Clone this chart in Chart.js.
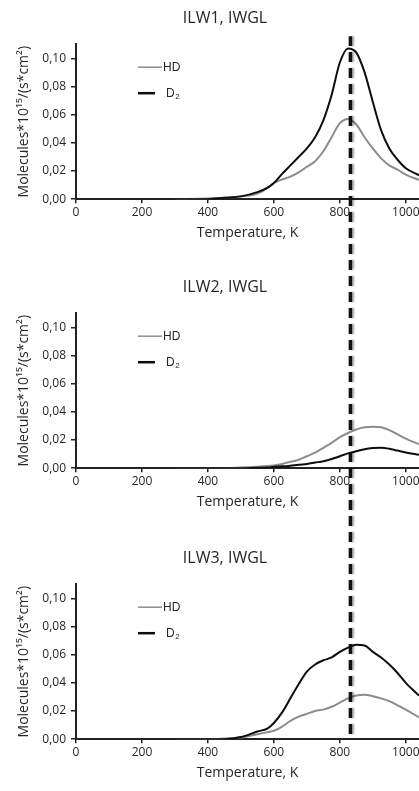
<!DOCTYPE html>
<html lang="en">
<head>
  <meta charset="UTF-8" />
  <title>TDS spectra ILW1-3</title>
  <script src="https://cdn.jsdelivr.net/npm/chart.js"></script>
  <style>
    html, body { margin: 0; padding: 0; background: #fff; }
    .page { position: relative; width: 419px; height: 791px; overflow: hidden; }
    .panel { position: absolute; left: 0; }
  </style>
</head>
<body>
  <div class="page">
    <div class="panel" style="top:0"><canvas id="c1" width="455" height="269"></canvas></div>
    <div class="panel" style="top:269px"><canvas id="c2" width="455" height="271"></canvas></div>
    <div class="panel" style="top:540px"><canvas id="c3" width="455" height="251"></canvas></div>
  </div>

  <script>
    // temperature grid (K)
    const TEMPS = [300, 400, 450, 500, 550, 580, 600, 625, 650, 675, 700, 725, 750, 775, 800, 825, 850, 875, 900, 925, 950, 975, 1000, 1040];

    // desorption flux, 10^15 molecules/(s*cm^2)
    const ILW1_HD = [0, 0.0005, 0.001, 0.002, 0.004, 0.008, 0.0115, 0.014, 0.016, 0.019, 0.023, 0.027, 0.034, 0.044, 0.054, 0.057, 0.053, 0.044, 0.036, 0.029, 0.024, 0.021, 0.0175, 0.0137];
    const ILW1_D2 = [0, 0, 0.001, 0.002, 0.005, 0.008, 0.0115, 0.018, 0.024, 0.030, 0.036, 0.044, 0.056, 0.074, 0.097, 0.107, 0.104, 0.090, 0.069, 0.049, 0.036, 0.028, 0.022, 0.017];
    const ILW2_HD = [0, 0, 0, 0.0005, 0.001, 0.0015, 0.002, 0.003, 0.0045, 0.006, 0.0085, 0.011, 0.0145, 0.018, 0.022, 0.025, 0.0275, 0.029, 0.0295, 0.029, 0.027, 0.024, 0.021, 0.017];
    const ILW2_D2 = [0, 0, 0, 0, 0.0003, 0.0005, 0.001, 0.0013, 0.0018, 0.0025, 0.003, 0.004, 0.005, 0.0065, 0.0085, 0.0105, 0.012, 0.0135, 0.0143, 0.0145, 0.0138, 0.0125, 0.0112, 0.0095];
    const ILW3_HD = [0, 0, 0.0005, 0.0012, 0.0035, 0.005, 0.006, 0.009, 0.013, 0.016, 0.018, 0.020, 0.021, 0.023, 0.026, 0.029, 0.031, 0.0315, 0.0305, 0.029, 0.027, 0.024, 0.021, 0.0155];
    const ILW3_D2 = [0, 0, 0, 0.0015, 0.0055, 0.0075, 0.0115, 0.019, 0.029, 0.039, 0.048, 0.053, 0.056, 0.058, 0.062, 0.065, 0.067, 0.0665, 0.062, 0.058, 0.053, 0.047, 0.040, 0.031];

    const TITLES = ["ILW1, IWGL", "ILW2, IWGL", "ILW3, IWGL"];
    const X_TICKS = [0, 200, 400, 600, 800, 1000];
    const Y_TICKS = [0, 0.02, 0.04, 0.06, 0.08, 0.10];
    const DASH_T = 832;   // vertical marker, K

    const FONT = "'Open Sans', 'DejaVu Sans', sans-serif";
    const HD_COLOR = "#8c8c8c";
    const D2_COLOR = "#0d0d0d";
    const TEXT = "#262626";

    // legend drawn inside the plot, upper left
    const insideLegend = {
      id: "insideLegend",
      afterDraw(chart) {
        const ctx = chart.ctx;
        const a = chart.chartArea;
        ctx.save();
        ctx.textBaseline = "middle";
        ctx.fillStyle = TEXT;

        let y = a.top + 23;
        ctx.strokeStyle = HD_COLOR;
        ctx.lineWidth = 1.5;
        ctx.beginPath(); ctx.moveTo(138, y); ctx.lineTo(162, y); ctx.stroke();
        ctx.font = "12px 'Liberation Sans', Arial, sans-serif";
        ctx.fillText("HD", 163, y);

        y = a.top + 49;
        ctx.strokeStyle = D2_COLOR;
        ctx.lineWidth = 2.5;
        ctx.beginPath(); ctx.moveTo(138, y); ctx.lineTo(155, y); ctx.stroke();
        ctx.fillText("D", 166, y);
        const w = ctx.measureText("D").width;
        ctx.font = "8px 'Liberation Sans', Arial, sans-serif";
        ctx.fillText("2", 166 + w + 0.5, y + 4);
        ctx.restore();
      }
    };

    // dashed marker running through all three panels
    const dashMarker = {
      id: "dashMarker",
      afterDatasetsDraw(chart, args, opts) {
        const ctx = chart.ctx;
        const x = chart.scales.x.getPixelForValue(DASH_T);
        const y0 = opts.from === "top" ? chart.chartArea.top - 8 : 0;
        const y1 = opts.to === "axis" ? chart.chartArea.bottom - 1 : chart.height;
        ctx.save();
        ctx.strokeStyle = "#111";
        ctx.lineWidth = 3.5;
        ctx.setLineDash([10, 6]);
        ctx.lineDashOffset = opts.pageTop + y0 - 36;
        ctx.shadowColor = "rgba(0,0,0,0.35)";
        ctx.shadowOffsetX = 2;
        ctx.shadowBlur = 2;
        ctx.beginPath();
        ctx.moveTo(x, y0);
        ctx.lineTo(x, y1);
        ctx.stroke();
        ctx.restore();
      }
    };

    function pts(vals) {
      return TEMPS.map((t, i) => ({ x: t, y: vals[i] }));
    }

    function makeChart(id, title, hd, d2, padBottom, dash) {
      const ctx = document.getElementById(id).getContext("2d");
      return new Chart(ctx, {
        type: "line",
        data: {
          datasets: [
            { label: "D2", data: pts(d2), borderColor: D2_COLOR, borderWidth: 2, pointRadius: 0, cubicInterpolationMode: "monotone" },
            { label: "HD", data: pts(hd), borderColor: HD_COLOR, borderWidth: 2, pointRadius: 0, cubicInterpolationMode: "monotone" }
          ]
        },
        options: {
          responsive: false,
          animation: false,
          devicePixelRatio: 1,
          events: [],
          layout: { padding: { left: 31, right: 36, top: 0, bottom: padBottom } },
          plugins: {
            legend: { display: false },
            tooltip: { enabled: false },
            title: {
              display: true,
              text: title,
              color: TEXT,
              font: { family: FONT, size: 16, weight: "normal" },
              padding: { top: 8.4, bottom: 16.6 }
            },
            dashMarker: dash
          },
          scales: {
            x: {
              type: "linear",
              min: 0,
              max: 1040,
              afterBuildTicks: s => { s.ticks = X_TICKS.map(v => ({ value: v })); },
              ticks: { color: TEXT, font: { family: FONT, size: 12 }, padding: 2, maxRotation: 0, callback: v => String(v) },
              grid: { drawOnChartArea: false, drawTicks: true, tickLength: 4, color: "#222", lineWidth: 1.5 },
              border: { display: true, color: "#222", width: 2 },
              title: {
                display: true,
                text: "Temperature, K",
                color: TEXT,
                font: { family: FONT, size: 14 },
                padding: { top: 3, bottom: 2 }
              }
            },
            y: {
              min: 0,
              max: 0.11,
              afterBuildTicks: s => { s.ticks = Y_TICKS.map(v => ({ value: v })); },
              afterFit: s => { s.width = 45; },
              ticks: {
                color: TEXT,
                font: { family: FONT, size: 12 },
                padding: 5,
                callback: v => v.toFixed(2).replace(".", ",")
              },
              grid: { drawOnChartArea: false, drawTicks: true, tickLength: 5, color: "#222", lineWidth: 1.5 },
              border: { display: true, color: "#222", width: 2 },
              title: {
                display: true,
                text: "Molecules*10¹⁵/(s*cm²)",
                color: TEXT,
                font: { family: FONT, size: 14 },
                padding: { top: -15.4, bottom: 0 }
              }
            }
          }
        },
        plugins: [insideLegend, dashMarker]
      });
    }

    makeChart("c1", TITLES[0], ILW1_HD, ILW1_D2, 25.6, { from: "top", to: "end", pageTop: 0 });
    makeChart("c2", TITLES[1], ILW2_HD, ILW2_D2, 27.6, { from: "start", to: "end", pageTop: 269 });
    makeChart("c3", TITLES[2], ILW3_HD, ILW3_D2, 7.6, { from: "start", to: "axis", pageTop: 540 });
  </script>
</body>
</html>
